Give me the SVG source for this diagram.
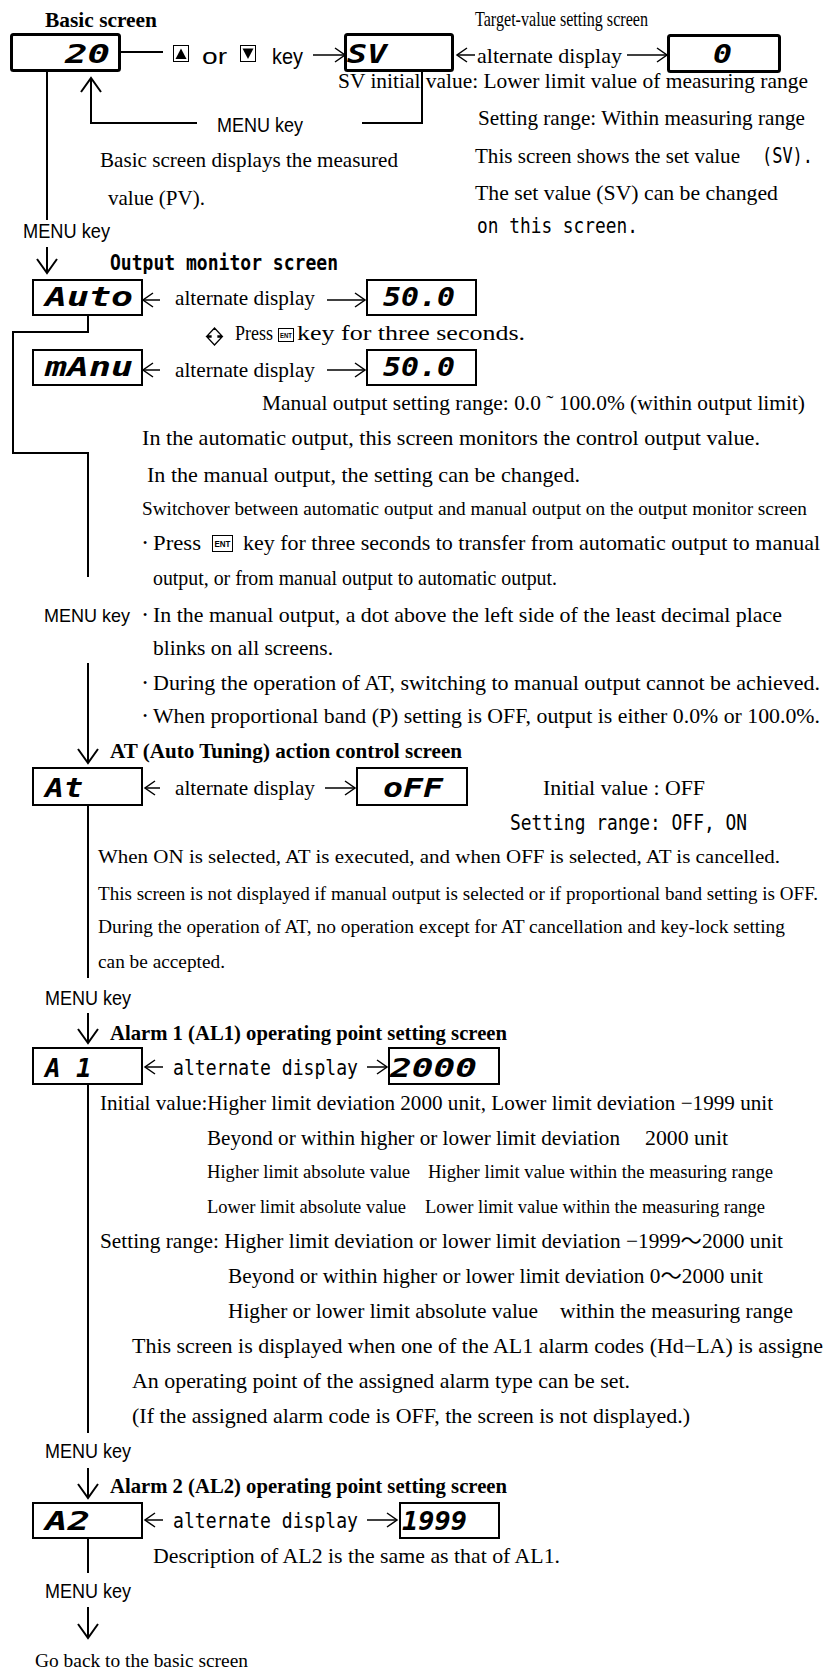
<svg xmlns="http://www.w3.org/2000/svg" width="825" height="1671" viewBox="0 0 825 1671">
<style>
text{fill:#000}
.s{font-family:"Liberation Serif","Noto Sans CJK KR",serif;font-size:21px}
.ss{font-family:"Liberation Serif","Noto Sans CJK KR",serif;font-size:18.5px}
.b{font-family:"Liberation Serif",serif;font-size:21px;font-weight:bold}
.k{font-family:"Liberation Sans",sans-serif;font-size:20px}
.m{font-family:"DejaVu Sans Mono",monospace;font-size:21px}
.mb{font-family:"DejaVu Sans Mono",monospace;font-size:21px;font-weight:bold}
.seg{font-family:"DejaVu Sans Mono",monospace;font-size:26px;font-weight:bold;font-style:italic}
.ent{font-family:"Liberation Sans",sans-serif;font-weight:bold}
.dot{font-family:"Liberation Serif",serif;font-size:12px}
.box{fill:#fff;stroke:#000;stroke-width:2}
.thick{stroke-width:3}
.ln{fill:none;stroke:#000;stroke-width:2}
.ar{fill:none;stroke:#000;stroke-width:1.5}
</style>
<defs>
<marker id="hv" markerUnits="userSpaceOnUse" markerWidth="16" markerHeight="24" refX="14" refY="10" orient="auto" overflow="visible"><path d="M0,0 L14,10 L0,20" fill="none" stroke="#000" stroke-width="2"/></marker>
<marker id="hh" markerUnits="userSpaceOnUse" markerWidth="12" markerHeight="16" refX="10" refY="7" orient="auto" overflow="visible"><path d="M0,0 L10,7 L0,14" fill="none" stroke="#000" stroke-width="1.5"/></marker>
</defs>

<g id="connectors">
<path class="ln" d="M121,52 H163"/>
<path class="ar" d="M313,55 H345" marker-end="url(#hh)"/>
<path class="ln" d="M422,71 V123 H362"/>
<path class="ln" d="M197,123 H91 V78" marker-end="url(#hv)"/>
<path class="ln" d="M47,72 V220"/>
<path class="ln" d="M47,247 V273" marker-end="url(#hv)"/>
<path class="ln" d="M88,315 V332 H13 V453 H88 V577"/>
<path class="ln" d="M88,663 V763" marker-end="url(#hv)"/>
<path class="ln" d="M88,805 V978"/>
<path class="ln" d="M88,1013 V1043" marker-end="url(#hv)"/>
<path class="ln" d="M88,1084 V1433"/>
<path class="ln" d="M88,1468 V1498" marker-end="url(#hv)"/>
<path class="ln" d="M88,1538 V1573"/>
<path class="ln" d="M88,1607 V1638" marker-end="url(#hv)"/>
<path class="ar" d="M475,55 H457" marker-end="url(#hh)"/>
<path class="ar" d="M627,55 H667" marker-end="url(#hh)"/>
<path class="ar" d="M160,300 H143" marker-end="url(#hh)"/>
<path class="ar" d="M327,300 H365" marker-end="url(#hh)"/>
<path class="ar" d="M160,370 H143" marker-end="url(#hh)"/>
<path class="ar" d="M327,370 H365" marker-end="url(#hh)"/>
<path class="ar" d="M160,788 H145" marker-end="url(#hh)"/>
<path class="ar" d="M325,788 H355" marker-end="url(#hh)"/>
<path class="ar" d="M163,1067 H145" marker-end="url(#hh)"/>
<path class="ar" d="M367,1067 H387" marker-end="url(#hh)"/>
<path class="ar" d="M163,1520 H145" marker-end="url(#hh)"/>
<path class="ar" d="M367,1520 H397" marker-end="url(#hh)"/>
</g>

<g id="basic">
<text class="b" x="45" y="27" textLength="112" lengthAdjust="spacingAndGlyphs">Basic screen</text>
<rect class="box thick" x="11.5" y="34.5" width="108" height="36" rx="2"/>
<text class="seg" x="65" y="63" textLength="45" lengthAdjust="spacingAndGlyphs">20</text>
<text class="s" x="100" y="167" textLength="298" lengthAdjust="spacingAndGlyphs">Basic screen displays the measured</text>
<text class="s" x="108" y="205" textLength="97" lengthAdjust="spacingAndGlyphs">value (PV).</text>
</g>

<g id="keys">
<rect x="173.5" y="45.5" width="15" height="16" fill="#fff" stroke="#000" stroke-width="1"/>
<polygon points="175.5,59 186.5,59 181,48.5" fill="#000"/>
<text class="k" x="202" y="64" textLength="25" lengthAdjust="spacingAndGlyphs" style="font-size:22px">or</text>
<rect x="240.5" y="45.5" width="15" height="16" fill="#fff" stroke="#000" stroke-width="1"/>
<polygon points="242.5,48.5 253.5,48.5 248,59" fill="#000"/>
<text class="k" x="272" y="64" textLength="31" lengthAdjust="spacingAndGlyphs" style="font-size:22px">key</text>
<text class="k" x="217" y="132" textLength="86" lengthAdjust="spacingAndGlyphs">MENU key</text>
</g>

<g id="target">
<text class="s" x="475" y="26" textLength="173" lengthAdjust="spacingAndGlyphs">Target-value setting screen</text>
<rect class="box thick" x="345.5" y="34.5" width="107" height="36" rx="2"/>
<text class="seg" x="347" y="63" textLength="40" lengthAdjust="spacingAndGlyphs">SV</text>
<text class="s" x="477" y="63" textLength="145" lengthAdjust="spacingAndGlyphs">alternate display</text>
<rect class="box thick" x="668.5" y="35.5" width="111" height="36" rx="2"/>
<text class="seg" x="713" y="63" textLength="19" lengthAdjust="spacingAndGlyphs">0</text>
<text class="s" x="338" y="88" textLength="470" lengthAdjust="spacingAndGlyphs">SV initial value: Lower limit value of measuring range</text>
<text class="s" x="478" y="125" textLength="327" lengthAdjust="spacingAndGlyphs">Setting range: Within measuring range</text>
<text class="s" x="475" y="163" textLength="265" lengthAdjust="spacingAndGlyphs">This screen shows the set value</text>
<text class="m" x="762" y="163" textLength="51" lengthAdjust="spacingAndGlyphs">(SV).</text>
<text class="s" x="475" y="200" textLength="303" lengthAdjust="spacingAndGlyphs">The set value (SV) can be changed</text>
<text class="m" x="477" y="233" textLength="161" lengthAdjust="spacingAndGlyphs">on this screen.</text>
</g>

<text class="k" x="23" y="238" textLength="87" lengthAdjust="spacingAndGlyphs">MENU key</text>

<g id="output-monitor">
<text class="mb" x="110" y="270" textLength="228" lengthAdjust="spacingAndGlyphs">Output monitor screen</text>
<rect class="box" x="33" y="280" width="109" height="35"/>
<text class="seg" x="45" y="306" textLength="88" lengthAdjust="spacingAndGlyphs">Auto</text>
<text class="s" x="175" y="305" textLength="140" lengthAdjust="spacingAndGlyphs">alternate display</text>
<rect class="box" x="367" y="280" width="109" height="35"/>
<text class="seg" x="383" y="306" textLength="72" lengthAdjust="spacingAndGlyphs">50.0</text>
<path d="M214.5,328 L222,336 L218,336 L218,337 L222,337 L214.5,345 L207,337 L211,337 L211,336 L207,336 Z" fill="#fff" stroke="#000" stroke-width="1.3"/>
<text class="s" x="235" y="340" textLength="38" lengthAdjust="spacingAndGlyphs">Press</text>
<rect x="278.5" y="328.5" width="15" height="13" fill="#fff" stroke="#000" stroke-width="1"/>
<text class="ent" x="280" y="338" textLength="12" lengthAdjust="spacingAndGlyphs" style="font-size:8px">ENT</text>
<text class="s" x="297" y="340" textLength="228" lengthAdjust="spacingAndGlyphs">key  for three seconds.</text>
<rect class="box" x="33" y="350" width="109" height="35"/>
<text class="seg" x="45" y="376" textLength="88" lengthAdjust="spacingAndGlyphs">mAnu</text>
<text class="s" x="175" y="377" textLength="140" lengthAdjust="spacingAndGlyphs">alternate display</text>
<rect class="box" x="367" y="350" width="109" height="35"/>
<text class="seg" x="383" y="376" textLength="72" lengthAdjust="spacingAndGlyphs">50.0</text>
<text class="s" x="262" y="410" textLength="543" lengthAdjust="spacingAndGlyphs">Manual output setting range: 0.0 ˜ 100.0% (within output limit)</text>
<text class="s" x="142" y="445" textLength="618" lengthAdjust="spacingAndGlyphs">In the automatic output, this screen monitors the control output value.</text>
<text class="s" x="147" y="482" textLength="433" lengthAdjust="spacingAndGlyphs">In the manual output, the setting can be changed.</text>
<text class="ss" x="142" y="515" textLength="665" lengthAdjust="spacingAndGlyphs">Switchover between automatic output and manual output on the output monitor screen</text>
<text class="dot" x="143" y="547">•</text>
<text class="s" x="153" y="550" textLength="48" lengthAdjust="spacingAndGlyphs">Press</text>
<rect x="212.5" y="535.5" width="20" height="16" fill="#fff" stroke="#000" stroke-width="1"/>
<text class="ent" x="214.5" y="547" textLength="16" lengthAdjust="spacingAndGlyphs" style="font-size:9px">ENT</text>
<text class="s" x="243" y="550" textLength="577" lengthAdjust="spacingAndGlyphs">key for three seconds to transfer from automatic output to manual</text>
<text class="s" x="153" y="585" textLength="404" lengthAdjust="spacingAndGlyphs">output, or from manual output to automatic output.</text>
<text class="k" x="44" y="622" textLength="86" lengthAdjust="spacingAndGlyphs" style="font-size:19px">MENU key</text>
<text class="dot" x="143" y="619">•</text>
<text class="s" x="153" y="622" textLength="629" lengthAdjust="spacingAndGlyphs">In the manual output, a dot above the left side of the least decimal place</text>
<text class="s" x="153" y="655" textLength="180" lengthAdjust="spacingAndGlyphs">blinks on all screens.</text>
<text class="dot" x="143" y="687">•</text>
<text class="s" x="153" y="690" textLength="667" lengthAdjust="spacingAndGlyphs">During the operation of AT, switching to manual output cannot be achieved.</text>
<text class="dot" x="143" y="720">•</text>
<text class="s" x="153" y="723" textLength="667" lengthAdjust="spacingAndGlyphs">When proportional band (P) setting is OFF, output is either 0.0% or 100.0%.</text>
</g>

<g id="at-screen">
<text class="b" x="110" y="758" textLength="352" lengthAdjust="spacingAndGlyphs">AT (Auto Tuning) action control screen</text>
<rect class="box" x="33" y="768" width="109" height="37"/>
<text class="seg" x="45" y="797" textLength="38" lengthAdjust="spacingAndGlyphs">At</text>
<text class="s" x="175" y="795" textLength="140" lengthAdjust="spacingAndGlyphs">alternate display</text>
<rect class="box" x="357" y="768" width="110" height="37"/>
<text class="seg" x="383" y="797" textLength="60" lengthAdjust="spacingAndGlyphs">oFF</text>
<text class="s" x="543" y="795" textLength="162" lengthAdjust="spacingAndGlyphs">Initial value : OFF</text>
<text class="m" x="510" y="830" textLength="237" lengthAdjust="spacingAndGlyphs">Setting range: OFF, ON</text>
<text class="ss" x="98" y="863" textLength="682" lengthAdjust="spacingAndGlyphs">When ON is selected, AT is executed, and when OFF is selected, AT is cancelled.</text>
<text class="ss" x="98" y="900" textLength="720" lengthAdjust="spacingAndGlyphs">This screen is not displayed if manual output is selected or if proportional band setting is OFF.</text>
<text class="ss" x="98" y="933" textLength="687" lengthAdjust="spacingAndGlyphs">During the operation of AT, no operation except for AT cancellation and key-lock setting</text>
<text class="ss" x="98" y="968" textLength="127" lengthAdjust="spacingAndGlyphs">can be accepted.</text>
<text class="k" x="45" y="1005" textLength="86" lengthAdjust="spacingAndGlyphs">MENU key</text>
</g>

<g id="alarm1">
<text class="b" x="110" y="1040" textLength="397" lengthAdjust="spacingAndGlyphs">Alarm 1 (AL1) operating point setting screen</text>
<rect class="box" x="33" y="1048" width="109" height="36"/>
<text class="seg" x="45 76" y="1077">A1</text>
<text class="m" x="173" y="1075" textLength="185" lengthAdjust="spacingAndGlyphs">alternate display</text>
<rect class="box" x="389" y="1048" width="110" height="36"/>
<text class="seg" x="390" y="1077" textLength="87" lengthAdjust="spacingAndGlyphs">2000</text>
<text class="s" x="100" y="1110" textLength="673" lengthAdjust="spacingAndGlyphs">Initial value:Higher limit deviation 2000 unit, Lower limit deviation −1999 unit</text>
<text class="s" x="207" y="1145" textLength="413" lengthAdjust="spacingAndGlyphs">Beyond or within higher or lower limit deviation</text>
<text class="s" x="645" y="1145" textLength="83" lengthAdjust="spacingAndGlyphs">2000 unit</text>
<text class="ss" x="207" y="1178" textLength="203" lengthAdjust="spacingAndGlyphs">Higher limit absolute value</text>
<text class="ss" x="428" y="1178" textLength="345" lengthAdjust="spacingAndGlyphs">Higher limit value within the measuring range</text>
<text class="ss" x="207" y="1213" textLength="199" lengthAdjust="spacingAndGlyphs">Lower limit absolute value</text>
<text class="ss" x="425" y="1213" textLength="340" lengthAdjust="spacingAndGlyphs">Lower limit value within the measuring range</text>
<text class="s" x="100" y="1248" textLength="683" lengthAdjust="spacingAndGlyphs">Setting range: Higher limit deviation or lower limit deviation −1999～2000 unit</text>
<text class="s" x="228" y="1283" textLength="535" lengthAdjust="spacingAndGlyphs">Beyond or within higher or lower limit deviation 0～2000 unit</text>
<text class="s" x="228" y="1318" textLength="310" lengthAdjust="spacingAndGlyphs">Higher or lower limit absolute value</text>
<text class="s" x="560" y="1318" textLength="233" lengthAdjust="spacingAndGlyphs">within the measuring range</text>
<text class="s" x="132" y="1353" textLength="691" lengthAdjust="spacingAndGlyphs">This screen is displayed when one of the AL1 alarm codes (Hd−LA) is assigne</text>
<text class="s" x="132" y="1388" textLength="498" lengthAdjust="spacingAndGlyphs">An operating point of the assigned alarm type can be set.</text>
<text class="s" x="132" y="1423" textLength="558" lengthAdjust="spacingAndGlyphs">(If the assigned alarm code is OFF, the screen is not displayed.)</text>
<text class="k" x="45" y="1458" textLength="86" lengthAdjust="spacingAndGlyphs">MENU key</text>
</g>

<g id="alarm2">
<text class="b" x="110" y="1493" textLength="397" lengthAdjust="spacingAndGlyphs">Alarm 2 (AL2) operating point setting screen</text>
<rect class="box" x="33" y="1503" width="109" height="35"/>
<text class="seg" x="45" y="1530" textLength="45" lengthAdjust="spacingAndGlyphs">A2</text>
<text class="m" x="173" y="1528" textLength="185" lengthAdjust="spacingAndGlyphs">alternate display</text>
<rect class="box" x="400" y="1503" width="99" height="35"/>
<text class="seg" x="402" y="1530" textLength="65" lengthAdjust="spacingAndGlyphs">1999</text>
<text class="s" x="153" y="1563" textLength="407" lengthAdjust="spacingAndGlyphs">Description of AL2 is the same as that of AL1.</text>
<text class="k" x="45" y="1598" textLength="86" lengthAdjust="spacingAndGlyphs">MENU key</text>
<text class="ss" x="35" y="1667" textLength="213" lengthAdjust="spacingAndGlyphs">Go back to the basic screen</text>
</g>
</svg>
